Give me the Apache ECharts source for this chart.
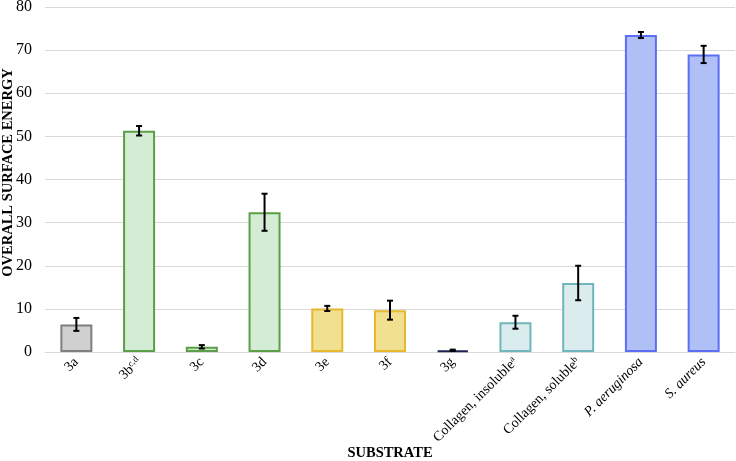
<!DOCTYPE html>
<html><head><meta charset="utf-8">
<script src="https://cdn.jsdelivr.net/npm/echarts@6/dist/echarts.min.js"></script>
<style>html,body{margin:0;padding:0;background:#fff}#c{width:736px;height:461px}</style>
</head><body><div id="c"></div>
<script>
var categories = ['3a','3b','3c','3d','3e','3f','3g','Collagen, insoluble','Collagen, soluble','P. aeruginosa','S. aureus'];
var superscripts = ['', 'c,d', '', '', '', '', '', 'a', 'b', '', ''];
var italicLabels = [false,false,false,false,false,false,false,false,false,true,true];
var values = [6.4, 51.3, 1.2, 32.4, 10.1, 9.7, 0.4, 6.9, 16.0, 73.5, 69.0];
var errors = [1.5, 1.1, 0.4, 4.3, 0.6, 2.2, 0.15, 1.5, 4.0, 0.7, 2.0];
var yTicks = [0, 10, 20, 30, 40, 50, 60, 70, 80];

var fillColors = ['#d0d0d0','#d5ecd4','#d5ecd4','#d5ecd4','#f0e08f','#f0e08f','#1c2152','#daeced','#daeced','#b0bff5','#b0bff5'];
var borderColors = ['#7f7f7f','#5a9e47','#5a9e47','#5a9e47','#e8b830','#e8b830','#1c2152','#70b5bb','#70b5bb','#5b6ef5','#5b6ef5'];

var font = 'Liberation Serif';
var chart = echarts.init(document.getElementById('c'));
chart.setOption({
  animation: false,
  grid: {left: 45, right: 1, top: 7, bottom: 109, containLabel: false, outerBoundsMode: 'none'},
  xAxis: {
    type: 'category', data: categories,
    name: 'SUBSTRATE', nameLocation: 'middle', nameGap: 94, nameMoveOverlap: false,
    nameTextStyle: {fontFamily: font, fontWeight: 'bold', fontSize: 14.5, color: '#000'},
    axisLine: {lineStyle: {color: '#d9d9d9', width: 1}},
    axisTick: {show: false},
    axisLabel: {
      rotate: 45, interval: 0, margin: 8,
      fontFamily: font, fontSize: 14, color: '#000',
      formatter: function (v) {
        var idx = categories.indexOf(v);
        var s = italicLabels[idx] ? '{it|' + v + '}' : '{n|' + v + '}';
        if (superscripts[idx]) s += '{sup|' + superscripts[idx] + '}';
        return s;
      },
      rich: {
        n: {fontFamily: font, fontSize: 14, color: '#000'},
        it: {fontFamily: font, fontSize: 14, fontStyle: 'italic', color: '#000'},
        sup: {fontFamily: font, fontSize: 9, color: '#000', verticalAlign: 'top', padding: [0, 0, 6, 0]}
      }
    }
  },
  yAxis: {
    type: 'value', min: yTicks[0], max: yTicks[yTicks.length - 1], interval: 10,
    name: 'OVERALL SURFACE ENERGY', nameLocation: 'middle', nameGap: 29, nameMoveOverlap: false,
    nameTextStyle: {fontFamily: font, fontWeight: 'bold', fontSize: 14.5, color: '#000', padding: [0, 0, 0, 14]},
    axisLine: {show: false}, axisTick: {show: false},
    axisLabel: {fontFamily: font, fontSize: 16, color: '#000', margin: 13},
    splitLine: {lineStyle: {color: '#d9d9d9', width: 1}}
  },
  series: [
    {
      type: 'bar', barWidth: '51%',
      data: values.map(function (v, i) {
        return {value: v, itemStyle: {color: fillColors[i], borderColor: borderColors[i], borderWidth: 2}};
      })
    },
    {
      type: 'custom', z: 10,
      data: values.map(function (v, i) { return [i, v - errors[i], v + errors[i]]; }),
      renderItem: function (params, api) {
        var x = api.value(0);
        var lo = api.coord([x, api.value(1)]);
        var hi = api.coord([x, api.value(2)]);
        var w = 3;
        var st = {stroke: '#000', lineWidth: 2};
        return {type: 'group', children: [
          {type: 'line', shape: {x1: lo[0], y1: lo[1], x2: hi[0], y2: hi[1]}, style: st},
          {type: 'line', shape: {x1: lo[0] - w, y1: lo[1], x2: lo[0] + w, y2: lo[1]}, style: st},
          {type: 'line', shape: {x1: hi[0] - w, y1: hi[1], x2: hi[0] + w, y2: hi[1]}, style: st}
        ]};
      }
    }
  ]
});
</script></body></html>
